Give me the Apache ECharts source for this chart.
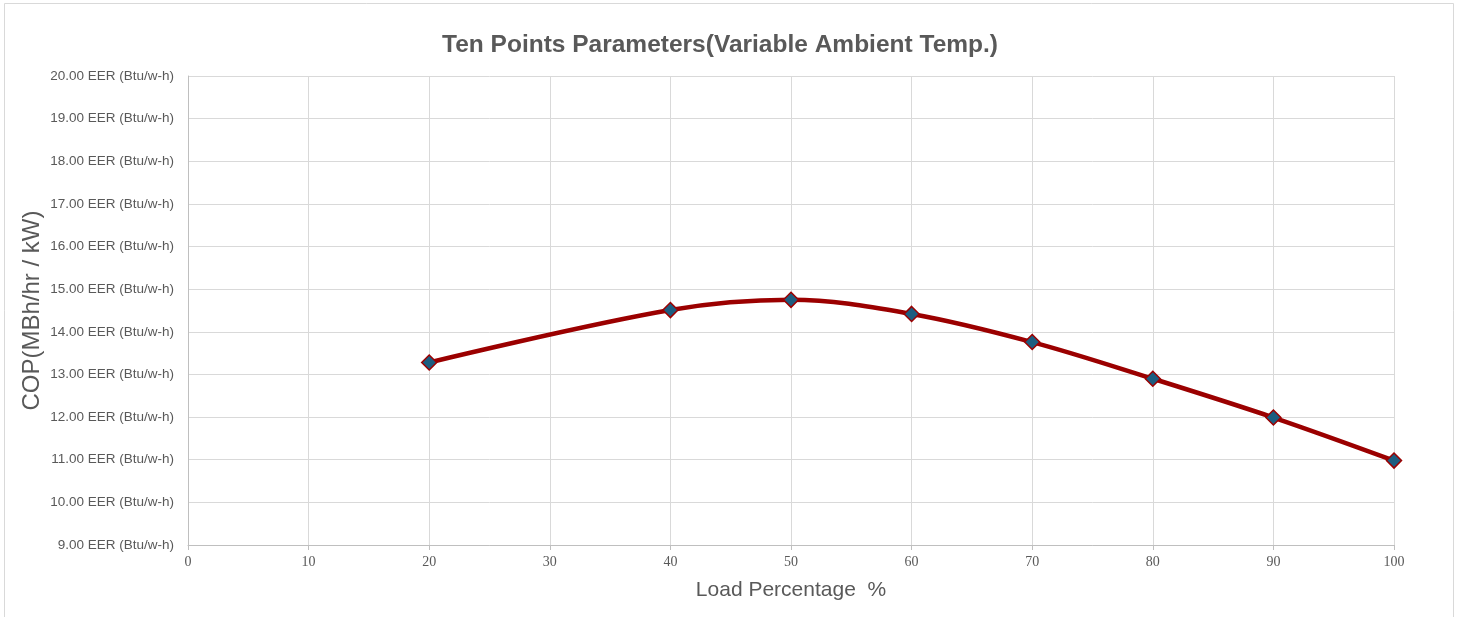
<!DOCTYPE html>
<html>
<head>
<meta charset="utf-8">
<script src="https://cdn.jsdelivr.net/npm/echarts@6/dist/echarts.min.js"></script>
<style>
html,body{margin:0;padding:0;background:#fff;}
#chart{width:1458px;height:617px;}
</style>
</head>
<body>
<div id="chart"></div>
<script>
const loadPct = [20, 40, 50, 60, 70, 80, 90, 100];
const eerValues = [13.28, 14.51, 14.75, 14.42, 13.76, 12.90, 11.99, 10.98];
const titleText = 'Ten Points Parameters(Variable Ambient Temp.)';
const xName = 'Load Percentage  %';
const yName = 'COP(MBh/hr / kW)';
const yUnit = ' EER (Btu/w-h)';

const chart = echarts.init(document.getElementById('chart'));
chart.setOption({
  animation: false,
  backgroundColor: '#ffffff',
  graphic: [{
    type: 'rect', silent: true,
    shape: { x: 4.5, y: 3.5, width: 1449, height: 700 },
    style: { fill: 'none', stroke: '#d9d9d9', lineWidth: 1 }
  }],
  title: {
    text: titleText,
    left: 715, top: 28, textAlign: 'center',
    textStyle: { fontFamily: 'Liberation Sans, Arial', fontWeight: 'bold', fontSize: 24.5, color: '#595959' }
  },
  grid: { left: 188, right: 64, top: 76, bottom: 72, containLabel: false },
  xAxis: {
    type: 'value', min: 0, max: 100, interval: 10,
    name: xName, nameLocation: 'middle', nameGap: 35,
    nameTextStyle: { fontFamily: 'Liberation Sans, Arial', fontSize: 21, color: '#595959' },
    axisLine: { show: true, lineStyle: { color: '#bfbfbf', width: 1 } },
    axisTick: { show: true, length: 5, lineStyle: { color: '#bfbfbf' } },
    axisLabel: { fontFamily: 'Liberation Serif, Times New Roman, serif', fontSize: 14, color: '#595959', margin: 10 },
    splitLine: { show: true, lineStyle: { color: '#d9d9d9', width: 1 } }
  },
  yAxis: {
    type: 'value', min: 9, max: 20, interval: 1,
    name: yName, nameLocation: 'middle', nameGap: 144, nameRotate: 90,
    nameMoveOverlap: false,
    nameTextStyle: { fontFamily: 'Liberation Sans, Arial', fontSize: 24, color: '#595959' },
    axisLine: { show: true, lineStyle: { color: '#bfbfbf', width: 1 } },
    axisTick: { show: false },
    axisLabel: {
      fontFamily: 'Liberation Sans, Arial', fontSize: 13.5, color: '#595959', margin: 14,
      formatter: v => v.toFixed(2) + yUnit
    },
    splitLine: { show: true, lineStyle: { color: '#d9d9d9', width: 1 } }
  },
  series: [{
    type: 'line',
    data: loadPct.map((x, i) => [x, eerValues[i]]),
    smooth: 0.35,
    symbol: 'diamond', symbolSize: 15,
    lineStyle: { color: '#9b0000', width: 4.5 },
    itemStyle: { color: '#1c5d80', borderColor: '#9b0000', borderWidth: 1.5 }
  }]
});
</script>
</body>
</html>
